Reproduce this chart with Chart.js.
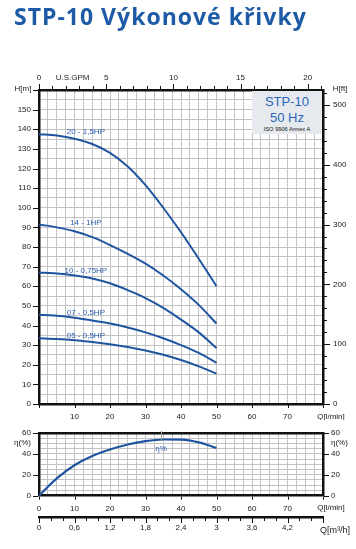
<!DOCTYPE html>
<html><head><meta charset="utf-8">
<script src="https://cdn.jsdelivr.net/npm/chart.js@4/dist/chart.umd.min.js"></script>
<style>
html,body{margin:0;padding:0;background:#fff;width:356px;height:549px;overflow:hidden;}
#title{position:absolute;left:14px;top:1px;font:bold 23px "Open Sans";letter-spacing:1px;color:#1d5ba6;white-space:nowrap;line-height:30px;}
#c1{position:absolute;left:0;top:0}
#c2{position:absolute;left:0;top:420px}
#box{position:absolute;left:252px;top:91px;width:70px;height:43px;background:#e6eaee;font-family:"Liberation Sans";text-align:center;color:#2a66b8;}
#box .a{position:absolute;left:0;right:0;top:3px;font-size:13px;line-height:16px;}
#box .b{position:absolute;left:0;right:0;top:19px;font-size:13px;line-height:16px;}
#box .c{position:absolute;left:0;right:0;top:35px;font-size:5.7px;line-height:7px;color:#111;}
</style></head><body>
<canvas id="c1" width="356" height="420"></canvas>
<canvas id="c2" width="356" height="129"></canvas>
<div id="title">STP-10 Výkonové křivky</div>
<div id="box"><div class="a">STP-10</div><div class="b">50 Hz</div><div class="c">ISO 9906 Annex A</div></div>
<script>
// ---- data ----
const flowLpm = [0, 5, 10, 15, 20, 25, 30, 35, 40, 45, 50];
const head20 = [137.5, 136.8, 135.2, 132.5, 128, 121, 111.5, 100, 87.5, 74, 60];
const head14 = [91.5, 90, 88, 85, 81, 76.5, 71.5, 65.5, 58.5, 50.5, 41];
const head10 = [67, 66.5, 65.5, 64, 61.5, 58, 54, 49, 43, 36.5, 28.5];
const head07 = [45.5, 45, 44, 42.5, 41, 39, 36.5, 33.5, 30, 26, 21];
const head05 = [33.5, 33.1, 32.5, 31.6, 30.5, 29.1, 27.3, 25.1, 22.4, 19.2, 15.5];
const efficiency = [0, 16.5, 29, 37.8, 44, 48.8, 52, 53.6, 53.4, 50.8, 45.5];
const curveLabels = ['20 - 1,5HP', '14 - 1HP', '10 - 0,75HP', '07 - 0,5HP', '05 - 0,5HP'];
const effLabel = 'η%';

const M_TO_FT = 3.28084, GPM_TO_LPM = 3.78541, LPM_TO_M3H = 0.06;
const Q_MAX = 80, H_MAX = 160, ETA_MAX = 60;

const BLUE = '#1f55a0', LBLUE = '#2a5db0', GRID = '#c3c3c3', INK = '#222', FRAME = '#111';
const FONT = 'Liberation Sans';

function pts(ys){ return flowLpm.map((q,i)=>({x:q,y:ys[i]})); }
function fmtComma(v){ return String(Number(v.toFixed(2))).replace('.', ','); }
function isMult(v,m){ return Math.abs(v/m - Math.round(v/m)) < 1e-6; }

const tickPlugin = {
  id:'tickMarks',
  afterDraw(chart, args, opts){
    const ctx = chart.ctx; ctx.save(); ctx.strokeStyle = FRAME; ctx.lineWidth = 1;
    (opts.specs||[]).forEach(s=>{
      const sc = chart.scales[s.id];
      for(let i=0;;i++){
        const v = s.from + i*s.step; if(v > s.to + 1e-9) break;
        const major = s.majorEvery ? isMult(v, s.majorEvery) : true;
        const len = major ? s.len : s.minorLen;
        const p = Math.round(sc.getPixelForValue(v)) + 0.5;
        ctx.beginPath();
        if(sc.position==='left'){ ctx.moveTo(sc.right-1, p); ctx.lineTo(sc.right-1-len, p); }
        else if(sc.position==='right'){ ctx.moveTo(sc.left+1, p); ctx.lineTo(sc.left+1+len, p); }
        else if(sc.position==='top'){ ctx.moveTo(p, sc.bottom-1); ctx.lineTo(p, sc.bottom-1-len); }
        else { ctx.moveTo(p, sc.top+1); ctx.lineTo(p, sc.top+1+len); }
        ctx.stroke();
      }
    });
    ctx.restore();
  }
};
const textPlugin = {
  id:'extraText',
  afterDraw(chart, args, opts){
    const ctx = chart.ctx; ctx.save(); ctx.textBaseline='middle';
    (opts.items||[]).forEach(t=>{
      ctx.font = t.font || ('8px "'+FONT+'"'); ctx.fillStyle = t.color || INK; ctx.textAlign = t.align || 'center';
      ctx.fillText(t.text, t.x(chart), t.y(chart));
    });
    if(opts.leader){
      const x = Math.round(chart.scales.x.getPixelForValue(opts.leader.atQ))+0.5;
      ctx.strokeStyle='#999'; ctx.lineWidth=1; ctx.beginPath();
      ctx.moveTo(x, chart.chartArea.top-2); ctx.lineTo(x, chart.chartArea.top+8); ctx.stroke();
    }
    ctx.restore();
  }
};
const curveLabelPlugin = {
  id:'curveLabels',
  afterDatasetsDraw(chart, args, opts){
    if(!opts.labels) return;
    const ctx = chart.ctx; ctx.save();
    ctx.font = '8px "'+FONT+'"'; ctx.fillStyle = LBLUE; ctx.textAlign='center'; ctx.textBaseline='middle';
    opts.labels.forEach((lab,i)=>{
      const meta = chart.getDatasetMeta(i);
      const x = chart.scales.x.getPixelForValue(opts.atQ);
      const y = meta.data[0].y + opts.dy;
      ctx.fillText(lab, x, y);
    });
    ctx.restore();
  }
};

function baseTicks(extra){ return Object.assign({autoSkip:false, maxRotation:0, minRotation:0, includeBounds:false, color:INK, font:{family:FONT, size:8}}, extra); }
const border = {display:true, color:FRAME, width:2.5};

const ds = (data, w) => ({data, borderColor:BLUE, borderWidth:w||2, pointRadius:0, fill:false, cubicInterpolationMode:'monotone'});

new Chart(document.getElementById('c1'), {
  type:'line',
  data:{datasets:[ds(pts(head20)), ds(pts(head14)), ds(pts(head10)), ds(pts(head07)), ds(pts(head05))]},
  plugins:[tickPlugin, textPlugin, curveLabelPlugin],
  options:{
    responsive:false, animation:false, layout:{padding:0},
    plugins:{
      legend:{display:false}, tooltip:{enabled:false},
      curveLabels:{labels:curveLabels, atQ:13.2, dy:-2},
      tickMarks:{specs:[
        {id:'y', from:0, to:H_MAX, step:10, len:5},
        {id:'yft', from:0, to:H_MAX*M_TO_FT, step:20, majorEvery:100, len:6, minorLen:3},
        {id:'gpm', from:0, to:Q_MAX/GPM_TO_LPM, step:1, majorEvery:5, len:5, minorLen:3},
        {id:'x', from:0, to:Q_MAX, step:10, len:3}
      ]},
      extraText:{items:[
        {text:'H[m]', x:c=>c.chartArea.left-16, y:c=>c.chartArea.top-1},
        {text:'H[ft]', x:c=>c.chartArea.right+17, y:c=>c.chartArea.top-1},
        {text:'Q[l/min]', x:c=>c.chartArea.right+8, y:c=>c.chartArea.bottom+13}
      ]}
    },
    scales:{
      x:{type:'linear', position:'bottom', min:0, max:Q_MAX, afterFit:s=>{s.height=16;},
        border, grid:{color:GRID, lineWidth:1, drawTicks:false},
        ticks:baseTicks({stepSize:2.5, padding:8, callback:v=>(isMult(v,10)&&v>0&&v<Q_MAX)?String(v):''})},
      gpm:{type:'linear', position:'top', min:0, max:Q_MAX/GPM_TO_LPM, afterFit:s=>{s.height=90;},
        border, grid:{drawOnChartArea:false, drawTicks:false},
        ticks:baseTicks({stepSize:2.5, padding:7, callback:v=>isMult(v,5)?String(v):(isMult(v-2.5,100)?'U.S.GPM':'')})},
      y:{type:'linear', position:'left', min:0, max:H_MAX, afterFit:s=>{s.width=39;},
        border, grid:{color:GRID, lineWidth:1, drawTicks:false},
        ticks:baseTicks({stepSize:5, padding:8, callback:v=>(isMult(v,10)&&v<H_MAX)?String(v):''})},
      yft:{type:'linear', position:'right', min:0, max:H_MAX*M_TO_FT, afterFit:s=>{s.width=33;},
        border, grid:{drawOnChartArea:false, drawTicks:false},
        ticks:baseTicks({stepSize:20, padding:10, callback:v=>isMult(v,100)?String(v):''})}
    }
  }
});

new Chart(document.getElementById('c2'), {
  type:'line',
  data:{datasets:[ds(pts(efficiency), 2.2)]},
  plugins:[tickPlugin, textPlugin],
  options:{
    responsive:false, animation:false, layout:{padding:0},
    plugins:{
      legend:{display:false}, tooltip:{enabled:false},
      tickMarks:{specs:[
        {id:'y', from:0, to:ETA_MAX, step:20, len:5},
        {id:'yr', from:0, to:ETA_MAX, step:20, len:5},
        {id:'x', from:0, to:Q_MAX, step:10, len:3},
        {id:'m3', from:0, to:Q_MAX*LPM_TO_M3H, step:0.2, majorEvery:0.6, len:5, minorLen:3}
      ]},
      extraText:{leader:{atQ:34.4}, items:[
        {text:'Q[l/min]', x:c=>c.chartArea.right+8, y:c=>c.chartArea.bottom+12},
        {text:'Q[m³/h]', font:'9px "'+FONT+'"', x:c=>c.chartArea.right+12, y:c=>c.chartArea.bottom+35},
        {text:effLabel, color:LBLUE, x:c=>c.scales.x.getPixelForValue(34.4), y:c=>c.chartArea.top+16}
      ]}
    },
    scales:{
      x:{type:'linear', position:'bottom', weight:0, min:0, max:Q_MAX, afterFit:s=>{s.height=21.3;},
        border, grid:{color:GRID, lineWidth:1, drawTicks:false},
        ticks:baseTicks({stepSize:2.5, padding:8, callback:v=>(isMult(v,10)&&v<Q_MAX)?String(v):''})},
      m3:{type:'linear', position:'bottom', weight:1, min:0, max:Q_MAX*LPM_TO_M3H, afterFit:s=>{s.height=32;},
        border, grid:{drawOnChartArea:false, drawTicks:false},
        ticks:baseTicks({stepSize:0.6, padding:6, callback:v=>(v < Q_MAX*LPM_TO_M3H-1e-6)?fmtComma(v):''})},
      xtop:{type:'linear', position:'top', min:0, max:Q_MAX, afterFit:s=>{s.height=9;},
        border, grid:{drawOnChartArea:false, drawTicks:false}, ticks:{display:false}},
      y:{type:'linear', position:'left', min:0, max:ETA_MAX, afterFit:s=>{s.width=39;},
        border, grid:{color:GRID, lineWidth:1, drawTicks:false},
        ticks:baseTicks({stepSize:5, padding:8, callback:v=>isMult(v,20)?String(v):(isMult(v-50,100)?'η(%)':'')})},
      yr:{type:'linear', position:'right', min:0, max:ETA_MAX, afterFit:s=>{s.width=33;},
        border, grid:{drawOnChartArea:false, drawTicks:false},
        ticks:baseTicks({stepSize:5, padding:8, callback:v=>isMult(v,20)?String(v):(isMult(v-50,100)?'η(%)':'')})}
    }
  }
});
</script>
</body></html>
